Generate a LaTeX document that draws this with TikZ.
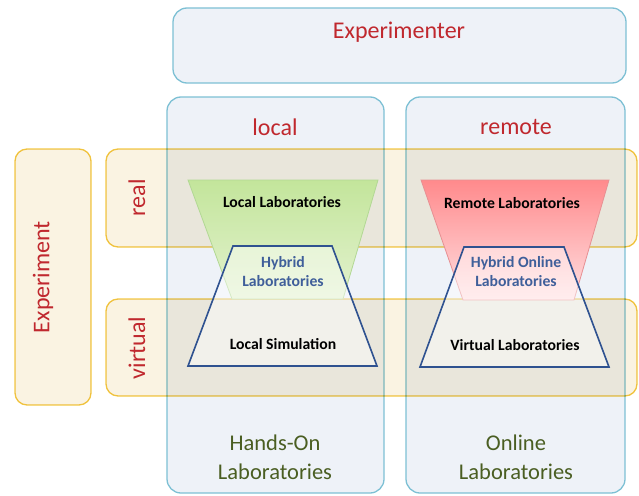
\documentclass[tikz,border=0pt]{standalone}
\usepackage{fontspec}
\setmainfont{Carlito}
\usepackage{tikz}
\usetikzlibrary{calc}
\definecolor{colfill}{HTML}{EEF2F8}
\definecolor{colline}{HTML}{7DC0D4}
\definecolor{rowfill}{HTML}{FAF3E2}
\definecolor{rowline}{HTML}{F3C843}
\definecolor{headred}{HTML}{C0282E}
\definecolor{footgreen}{HTML}{4A5E22}
\definecolor{hybblue}{HTML}{3F5F9A}
\definecolor{trapblue}{HTML}{2F5290}
\definecolor{greentop}{HTML}{C3E59B}
\definecolor{greenbot}{HTML}{E3F2CF}
\definecolor{greenline}{HTML}{B2D894}
\definecolor{redtop}{HTML}{FF8A8C}
\definecolor{redbot}{HTML}{FFE0E2}
\definecolor{redline}{HTML}{E79093}

\begin{document}
\begin{tikzpicture}[x=1pt,y=-1pt,
		colbox/.style={draw=colline,fill=colfill,line width=1.3pt,rounded corners=14pt},
		rowbox/.style={draw=rowline,fill=rowfill,line width=1.3pt,rounded corners=12pt,blend mode=multiply},
		head/.style={text=headred,font=\fontsize{24}{28}\selectfont},
		foot/.style={text=footgreen,font=\fontsize{22.5}{29}\selectfont,align=center},
		lab/.style={font=\bfseries\fontsize{15.7}{19}\selectfont,align=center},
		trap/.style={draw=trapblue,line width=1.6pt,fill=white,fill opacity=0.45}]
		\useasboundingbox (0,0) rectangle (639,495);
		
		\draw[colbox] (173,8) rectangle (626,83);
		\draw[colbox] (167,97) rectangle (384,493);
		\draw[colbox] (406,97) rectangle (625,493);
		
		\draw[rowbox] (106,149) rectangle (637,247);
		\draw[rowbox] (106,299) rectangle (637,396);
		\draw[rowbox] (15,149) rectangle (91,405);
		
		\shadedraw[top color=greentop,bottom color=greenbot,draw=greenline,line width=0.8pt] (188,180) -- (378,180) -- (343,299) -- (232,299) -- cycle;
		\shadedraw[top color=redtop,bottom color=redbot,draw=redline,line width=0.8pt] (421,180) -- (609,180) -- (574,300) -- (463,300) -- cycle;
		\draw[trap] (233,246) -- (332,246) -- (377,366) -- (188,366) -- cycle;
		\draw[trap] (464,247) -- (564,247) -- (609,367) -- (420,367) -- cycle;
		
		\node[head](exper)at(399,32) {Experimenter};
		\node[head](loc)at(275,127) {local};
		\node[head](rem)at(516,127) {remote};
		\node[head,rotate=90](real)at(137,198) {real};
		\node[head,rotate=90](virt)at(137,348) {virtual};
		\node[head,rotate=90](expt)at(43,277) {Experiment};
		
		\node[lab](loclab)at(282,202) {Local Laboratories};
		\node[lab,text=hybblue](hyb)at(283,272) {Hybrid\\Laboratories};
		\node[lab](locsim)at(283,344) {Local Simulation};
		\node[lab](remlab)at(512,203) {Remote Laboratories};
		\node[lab,text=hybblue](hybon)at(516,272) {Hybrid Online\\Laboratories};
		\node[lab](virtlab)at(515,345) {Virtual Laboratories};
		
		\node[foot](hands)at(275,457) {Hands-On\\Laboratories};
		\node[foot](online)at(516,457) {Online\\Laboratories};
	\end{tikzpicture}
\end{document}
